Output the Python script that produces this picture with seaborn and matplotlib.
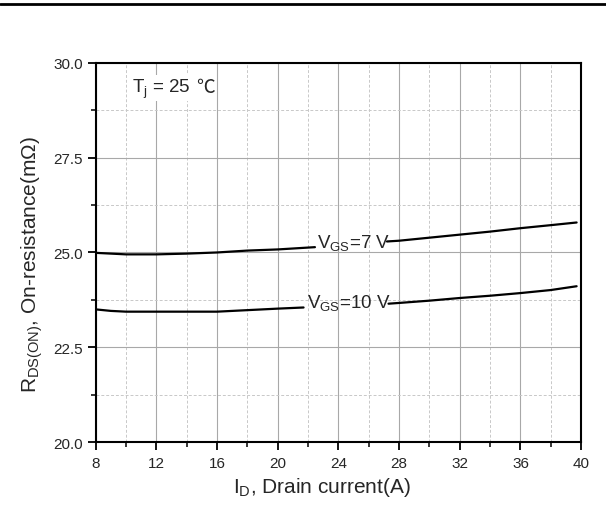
import matplotlib
matplotlib.use("Agg")
import matplotlib.pyplot as plt
import seaborn as sns
from matplotlib.lines import Line2D
from matplotlib.ticker import MultipleLocator

# Data (each curve is broken where its label sits)
vgs7_left_id = [8, 10, 12, 14, 16, 18, 20, 22.45]
vgs7_left_r = [24.99, 24.95, 24.95, 24.97, 25.00, 25.05, 25.08, 25.14]
vgs7_right_id = [27.2, 28, 30, 32, 34, 36, 38, 39.7]
vgs7_right_r = [25.29, 25.31, 25.39, 25.47, 25.55, 25.64, 25.72, 25.79]

vgs10_left_id = [8, 9, 10, 12, 14, 16, 18, 20, 21.7]
vgs10_left_r = [23.50, 23.46, 23.44, 23.44, 23.44, 23.44, 23.48, 23.52, 23.55]
vgs10_right_id = [27.3, 28, 30, 32, 34, 36, 38, 39.7]
vgs10_right_r = [23.65, 23.67, 23.73, 23.80, 23.86, 23.93, 24.01, 24.11]

x_ticks = [8, 12, 16, 20, 24, 28, 32, 36, 40]
y_ticks = [20.0, 22.5, 25.0, 27.5, 30.0]

sns.set_style("white")
plt.rcParams['font.family'] = ['Liberation Sans', 'Noto Sans CJK SC', 'DejaVu Sans']
plt.rcParams['mathtext.fontset'] = 'custom'
plt.rcParams['mathtext.rm'] = 'Liberation Sans'
plt.rcParams['mathtext.it'] = 'Liberation Sans:italic'

fig = plt.figure(figsize=(6.06, 5.10), dpi=100)
ax = fig.add_axes([0.158, 0.131, 0.801, 0.744])

# grid first, underneath everything
ax.set_axisbelow(True)
ax.grid(which='major', color='#a8a8a8', lw=0.8, ls='-')
ax.grid(which='minor', color='#c8c8c8', lw=0.7, ls=(0, (3, 2)))

for xs, ys in [(vgs7_left_id, vgs7_left_r), (vgs7_right_id, vgs7_right_r),
               (vgs10_left_id, vgs10_left_r), (vgs10_right_id, vgs10_right_r)]:
    sns.lineplot(x=xs, y=ys, color='black', lw=1.6, ax=ax, zorder=3)

ax.set_xlim(8, 40)
ax.set_ylim(20, 30)
ax.set_xticks(x_ticks)
ax.set_yticks(y_ticks)
ax.set_yticklabels([f'{v:.1f}' for v in y_ticks])
ax.xaxis.set_minor_locator(MultipleLocator(2))
ax.yaxis.set_minor_locator(MultipleLocator(1.25))

ax.tick_params(which='major', direction='out', length=5.8, width=1.3,
               labelsize=11, color='black', bottom=True, left=True)
ax.tick_params(axis='x', which='major', pad=4.3)
ax.tick_params(axis='y', which='major', pad=3.6)
ax.tick_params(which='minor', direction='out', length=3.6, width=1.1,
               color='black', bottom=True, left=True)
for s in ax.spines.values():
    s.set_color('black')
    s.set_linewidth(1.5)

ax.set_xlabel(r'I$_\mathregular{D}$, Drain current(A)', fontsize=15)
ax.set_ylabel(r'R$_\mathregular{DS(ON)}$, On-resistance(m$\Omega$)', fontsize=15)
ax.xaxis.set_label_coords(0.466, -0.087)
ax.yaxis.set_label_coords(-0.105, 0.47)

# annotations
ax.text(22.57, 25.14, r'V$_\mathregular{GS}$=7 V', fontsize=13.5, va='baseline', ha='left', zorder=4)
ax.text(21.9, 23.57, r'V$_\mathregular{GS}$=10 V', fontsize=13.5, va='baseline', ha='left', zorder=4)
tj = ax.text(10.36, 29.23, r'T$_\mathregular{j}$ = 25', fontsize=13.5, va='baseline', ha='left', zorder=4,
             bbox=dict(facecolor='white', edgecolor='none', pad=1))
# degree sign as its own text so the CJK font can supply the glyph
ax.annotate('℃', xy=(1, 29.23), xycoords=(tj, 'data'), xytext=(4, 0), textcoords='offset points',
            fontsize=13.5, family=['Noto Sans CJK SC', 'DejaVu Sans'], va='baseline', ha='left',
            zorder=4, bbox=dict(facecolor='white', edgecolor='none', pad=1))

# heavy rule at the very top of the page
fig.add_artist(Line2D([0, 1], [0.9907, 0.9907], color='black', lw=2, transform=fig.transFigure))

fig.savefig('out.png', dpi=100)
